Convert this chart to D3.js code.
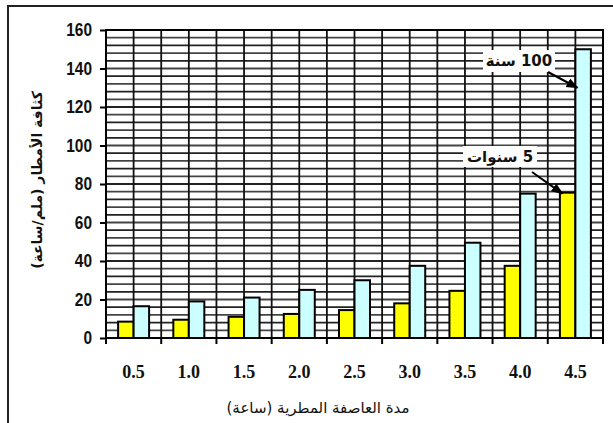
<!DOCTYPE html>
<html>
<head>
<meta charset="utf-8">
<script src="https://cdn.jsdelivr.net/npm/d3@7"></script>
<style>
  body { margin: 0; background: #fff; }
</style>
</head>
<body>
<div id="chart"></div>
<script>
// values
const durations = ["0.5", "1.0", "1.5", "2.0", "2.5", "3.0", "3.5", "4.0", "4.5"];
const years5 = [8.5, 9.5, 11, 12.5, 14.5, 18, 24.5, 37.5, 75.5];
const years100 = [16.5, 19, 21, 25, 30, 37.5, 49.5, 75, 150];
const yTicks = [0, 20, 40, 60, 80, 100, 120, 140, 160];

const width = 613, height = 423;
const margin = { top: 30, right: 10, bottom: 85, left: 106 };
const innerWidth = 603 - margin.left;
const innerHeight = 338 - margin.top;

const svg = d3.select("#chart").append("svg")
    .attr("width", width)
    .attr("height", height);

// outer frame
svg.append("path")
    .attr("d", `M8,${height} L8,6 L${width},6`)
    .attr("fill", "none")
    .attr("stroke", "#222")
    .attr("stroke-width", 2);

const g = svg.append("g")
    .attr("transform", `translate(${margin.left},${margin.top})`);

const xScale = d3.scaleBand()
    .domain(durations)
    .range([0, innerWidth]);
const yScale = d3.scaleLinear()
    .domain([0, 160])
    .range([innerHeight, 0]);

// horizontal grid every 4 units
g.append("g")
    .selectAll("line")
    .data(d3.range(4, 160, 4))
    .join("line")
    .attr("x1", 0)
    .attr("x2", innerWidth)
    .attr("y1", d => yScale(d))
    .attr("y2", d => yScale(d))
    .attr("stroke", (d, i) => i % 2 ? "#222" : "#444")
    .attr("stroke-width", 1.8);

// vertical grid at category edges and centers
const vLines = [];
durations.forEach((d, i) => {
    if (i > 0) vLines.push(xScale(d));
    vLines.push(xScale(d) + xScale.bandwidth() / 2);
});
g.append("g")
    .selectAll("line")
    .data(vLines)
    .join("line")
    .attr("x1", d => d)
    .attr("x2", d => d)
    .attr("y1", 0)
    .attr("y2", innerHeight)
    .attr("stroke", "#111")
    .attr("stroke-width", 1.8);

// bars
const barW = 15.5;
g.selectAll(".bar5")
    .data(durations)
    .join("rect")
    .attr("class", "bar5")
    .attr("x", d => xScale(d) + xScale.bandwidth() / 2 - barW)
    .attr("y", (d, i) => yScale(years5[i]))
    .attr("width", barW)
    .attr("height", (d, i) => innerHeight - yScale(years5[i]))
    .attr("fill", "#ffff00")
    .attr("stroke", "#000")
    .attr("stroke-width", 2);
g.selectAll(".bar100")
    .data(durations)
    .join("rect")
    .attr("class", "bar100")
    .attr("x", d => xScale(d) + xScale.bandwidth() / 2)
    .attr("y", (d, i) => yScale(years100[i]))
    .attr("width", barW)
    .attr("height", (d, i) => innerHeight - yScale(years100[i]))
    .attr("fill", "#ccffff")
    .attr("stroke", "#000")
    .attr("stroke-width", 2);

// plot border
g.append("rect")
    .attr("width", innerWidth)
    .attr("height", innerHeight)
    .attr("fill", "none")
    .attr("stroke", "#000")
    .attr("stroke-width", 2);

// y axis
const yAxis = g.append("g")
    .call(d3.axisLeft(yScale).tickValues(yTicks).tickSize(6).tickSizeOuter(0).tickPadding(6));
yAxis.select(".domain").remove();
yAxis.selectAll("line").attr("stroke", "#000").attr("stroke-width", 2);
yAxis.selectAll("text")
    .attr("font-family", "'Liberation Sans', sans-serif")
    .attr("font-weight", "bold")
    .attr("font-size", 18)
    .attr("transform", "translate(-2,0)")
    .attr("textLength", d => String(d).length * 8.6)
    .attr("lengthAdjust", "spacingAndGlyphs")
    .attr("fill", "#111");

// x axis: ticks at boundaries, labels at centres
const xAxis = g.append("g")
    .attr("transform", `translate(0,${innerHeight})`);
xAxis.selectAll("line")
    .data(d3.range(durations.length + 1))
    .join("line")
    .attr("x1", i => i * xScale.step())
    .attr("x2", i => i * xScale.step())
    .attr("y1", 0)
    .attr("y2", 6)
    .attr("stroke", "#000")
    .attr("stroke-width", 2);
xAxis.selectAll("text")
    .data(durations)
    .join("text")
    .attr("x", d => xScale(d) + xScale.bandwidth() / 2)
    .attr("y", 40)
    .attr("text-anchor", "middle")
    .attr("font-family", "'Liberation Serif', 'Times New Roman', serif")
    .attr("font-weight", "bold")
    .attr("font-size", 18)
    .attr("fill", "#111")
    .text(d => d);

// axis titles
svg.append("text")
    .attr("x", 318)
    .attr("y", 413)
    .attr("text-anchor", "middle")
    .attr("direction", "rtl")
    .attr("font-family", "'DejaVu Sans', sans-serif")
    .attr("font-size", 15)
    .attr("fill", "#111")
    .text("مدة العاصفة المطرية (ساعة)");

svg.append("text")
    .attr("transform", "translate(42,180) rotate(-90)")
    .attr("text-anchor", "middle")
    .attr("direction", "rtl")
    .attr("font-family", "'DejaVu Sans', sans-serif")
    .attr("font-weight", "bold")
    .attr("font-size", 14)
    .attr("fill", "#111")
    .text("كثافة الأمطار (ملم/ساعة)");

// annotations
const defs = svg.append("defs");
defs.append("marker")
    .attr("id", "arrow")
    .attr("viewBox", "0 0 10 10")
    .attr("refX", 9).attr("refY", 5)
    .attr("markerWidth", 6).attr("markerHeight", 6)
    .attr("orient", "auto")
    .append("path")
    .attr("d", "M0,1 L10,5 L0,9 Z")
    .attr("fill", "#000");

const last = durations[durations.length - 1];
const notes = [
    { text: "100 سنة", box: [483, 50, 72, 22], from: [548, 72], value: 130, bar: 1 },
    { text: "5 سنوات", box: [463, 146, 74, 21], from: [532, 172], value: 75, bar: 0 }
];
notes.forEach(n => {
    svg.append("rect")
        .attr("x", n.box[0]).attr("y", n.box[1])
        .attr("width", n.box[2]).attr("height", n.box[3])
        .attr("fill", "#fff");
    svg.append("text")
        .attr("x", n.box[0] + n.box[2] / 2)
        .attr("y", n.box[1] + n.box[3] / 2 + 5)
        .attr("text-anchor", "middle")
        .attr("direction", "rtl")
        .attr("font-family", "'DejaVu Sans', sans-serif")
        .attr("font-weight", "bold")
        .attr("font-size", 15)
        .attr("fill", "#111")
        .text(n.text);
    const tx = margin.left + xScale(last) + xScale.bandwidth() / 2 + (n.bar ? 2 : -13);
    const ty = margin.top + yScale(n.value);
    svg.append("line")
        .attr("x1", n.from[0]).attr("y1", n.from[1])
        .attr("x2", tx).attr("y2", ty)
        .attr("stroke", "#000")
        .attr("stroke-width", 2)
        .attr("marker-end", "url(#arrow)");
});
</script>
</body>
</html>
